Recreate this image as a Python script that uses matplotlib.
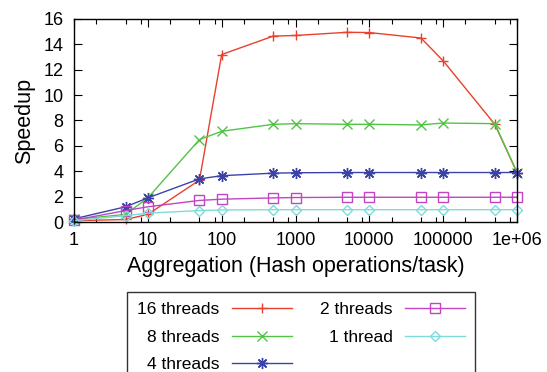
import matplotlib
matplotlib.use("Agg")
import matplotlib.pyplot as plt
from matplotlib.ticker import FixedLocator, NullFormatter
import numpy as np

plt.rcParams['font.family'] = ['Liberation Sans', 'DejaVu Sans']

x = [1, 5, 10, 50, 100, 500, 1000, 5000, 10000, 50000, 100000, 500000, 1000000]
t16 = [0.1, 0.2, 0.6, 3.3, 13.2, 14.65, 14.7, 14.95, 14.93, 14.5, 12.7, 7.7, 3.9]
t8 = [0.2, 0.6, 1.9, 6.5, 7.15, 7.7, 7.75, 7.7, 7.7, 7.65, 7.8, 7.75, 3.9]
t4 = [0.25, 1.2, 1.9, 3.4, 3.65, 3.85, 3.88, 3.9, 3.9, 3.9, 3.9, 3.9, 3.9]
t2 = [0.15, 0.9, 1.2, 1.7, 1.8, 1.9, 1.93, 1.95, 1.95, 1.95, 1.95, 1.95, 1.95]
t1 = [0.1, 0.5, 0.7, 0.9, 0.95, 0.97, 0.97, 0.97, 0.97, 0.97, 0.97, 0.97, 0.97]

series = [
    ("16 threads", t16, "#e8412c", "+", 7, "none"),
    ("8 threads", t8, "#52c445", "x", 6.5, "none"),
    ("4 threads", t4, "#3b43a8", (8, 2, 0), 8, "none"),
    ("2 threads", t2, "#c245c2", "s", 7, "none"),
    ("1 thread", t1, "#7fdada", "D", 5.5, "none"),
]

fig = plt.figure(figsize=(5.47, 3.72), dpi=100)
ax = fig.add_axes([0.1353, 0.4032, 0.8099, 0.5458])

for label, ys, col, mk, ms, mfc in series:
    ax.plot(x, ys, color=col, marker=mk, markersize=ms, markerfacecolor=mfc,
            markeredgecolor=col, markeredgewidth=1.0, linewidth=1.0, label=label,
            clip_on=False)

ax.set_xscale('log')
ax.set_xlim(1, 1e6)
ax.set_ylim(0, 16)
ax.set_yticks(np.arange(0, 17, 2))
xt = [1, 10, 100, 1000, 10000, 100000, 1000000]
ax.xaxis.set_major_locator(FixedLocator(xt))
ax.set_xticklabels(["1", "10", "100", "1000", "10000", "100000", "1e+06"])
minor = [d * m for d in [1, 10, 100, 1000, 10000, 100000] for m in (2, 5, 8)]
ax.xaxis.set_minor_locator(FixedLocator(minor))
ax.xaxis.set_minor_formatter(NullFormatter())

ax.tick_params(which='both', direction='in', top=True, right=True, labelsize=13, width=0.8)
ax.tick_params(axis='x', pad=7)
ax.tick_params(axis='y', pad=7.5)
ax.tick_params(which='major', length=6)
ax.tick_params(which='minor', length=3.5)
for s in ax.spines.values():
    s.set_linewidth(1.0)

ax.set_xlabel("Aggregation (Hash operations/task)", fontsize=15.5, labelpad=5)
ax.set_ylabel("Speedup", fontsize=15.5, labelpad=6)

leg = fig.legend(loc='upper left', bbox_to_anchor=(127 / 547, 1 - 291.5 / 372), ncol=2,
                 markerfirst=False, fontsize=12.5, frameon=True, fancybox=False,
                 edgecolor='black', handlelength=3.45, handletextpad=0.7,
                 columnspacing=1.65, labelspacing=0.72, borderpad=0.6,
                 borderaxespad=0)
leg.get_frame().set_linewidth(1.0)

fig.savefig("out.png", dpi=100)
